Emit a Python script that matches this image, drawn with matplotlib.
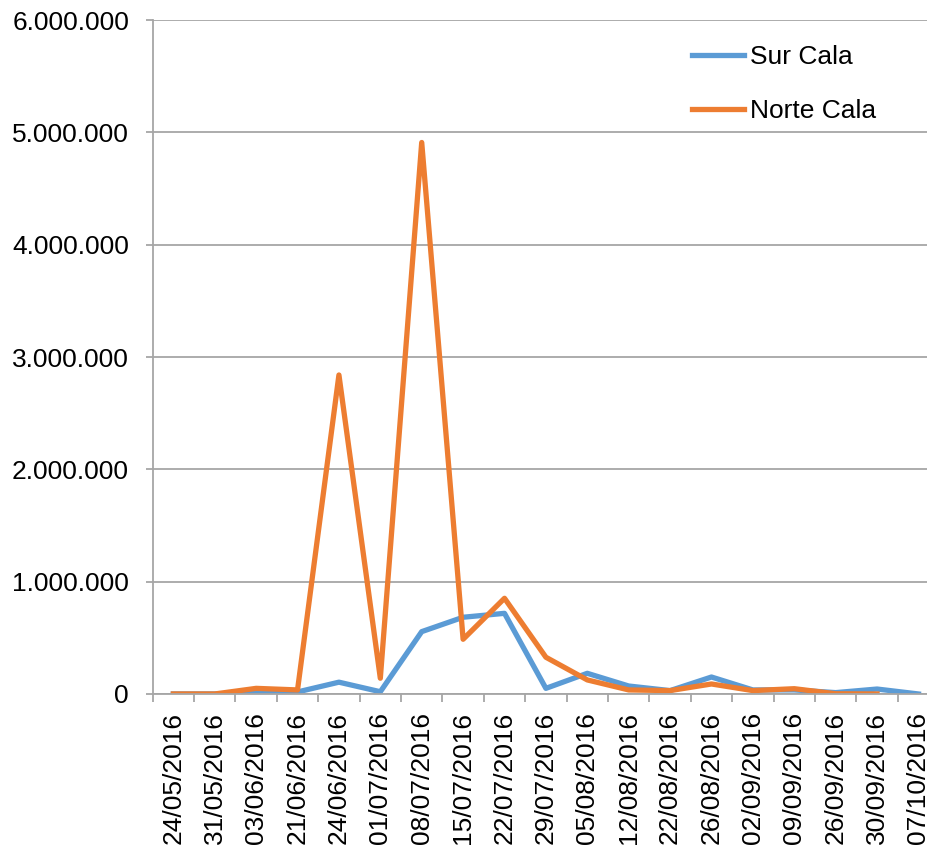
import numpy as np
import matplotlib.pyplot as plt
from matplotlib.ticker import FuncFormatter, MultipleLocator

# sampling dates and totals per station
fechas = ['24/05/2016', '31/05/2016', '03/06/2016', '21/06/2016', '24/06/2016',
          '01/07/2016', '08/07/2016', '15/07/2016', '22/07/2016', '29/07/2016',
          '05/08/2016', '12/08/2016', '22/08/2016', '26/08/2016', '02/09/2016',
          '09/09/2016', '26/09/2016', '30/09/2016', '07/10/2016']

sur_cala = [0, 0, 5000, 18000, 105000, 20000, 555000, 683000, 718000, 50000,
            184000, 71000, 30000, 151000, 36000, 36000, 12000, 44000, 0]

norte_cala = [0, 0, 50000, 36000, 2840000, 140000, 4910000, 487000, 852000, 327000,
              125000, 36000, 30000, 89000, 30000, 47000, 2000, 0, np.nan]

plt.rcParams['font.family'] = ['Liberation Sans', 'DejaVu Sans']

fig = plt.figure(figsize=(9.28, 8.49), dpi=100)
ax = fig.add_axes([0.1645, 0.1826, 0.8475, 0.7938])

x = np.arange(len(fechas))
ax.plot(x, sur_cala, color='#5B9BD5', lw=3.8, label='Sur Cala', solid_joinstyle='round')
ax.plot(x, norte_cala, color='#ED7D31', lw=3.8, label='Norte Cala', solid_joinstyle='round')

ax.set_xlim(-0.5, len(fechas) - 0.5)
ax.set_ylim(0, 6000000)

# y axis: dotted thousands like "1.000.000"
ax.yaxis.set_major_locator(MultipleLocator(1000000))
ax.yaxis.set_major_formatter(FuncFormatter(lambda v, p: f'{int(v):,}'.replace(',', '.')))
ax.grid(axis='y', color='#A6A6A6', lw=1.3)
ax.set_axisbelow(True)

# category labels at centres, tick marks between categories
ax.set_xticks(x)
ax.set_xticklabels(fechas, rotation=90)
ax.set_xticks(np.arange(len(fechas) + 1) - 0.5, minor=True)
ax.tick_params(axis='x', which='major', length=0, pad=13, labelsize=19)
ax.tick_params(axis='x', which='minor', length=6, width=1.3, color='#A6A6A6', direction='out')
ax.tick_params(axis='y', length=5, width=1.3, color='#A6A6A6', pad=12, labelsize=19)

for side in ['top', 'right']:
    ax.spines[side].set_visible(False)
for side in ['left', 'bottom']:
    ax.spines[side].set_color('#A6A6A6')
    ax.spines[side].set_linewidth(1.3)

ax.legend(loc='upper left', bbox_to_anchor=(0.655, 0.998), frameon=False,
          fontsize=19, handlelength=2.0, handletextpad=0.2, labelspacing=1.14)

fig.savefig('out.png', dpi=100)
